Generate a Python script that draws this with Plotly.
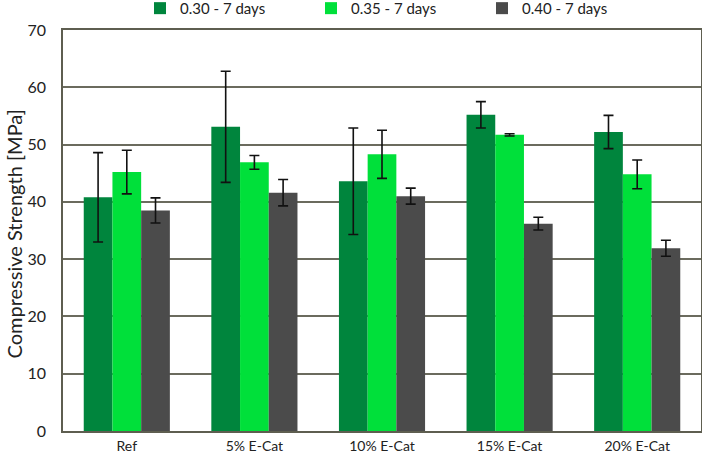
import plotly.graph_objects as go

categories = ["Ref", "5% E-Cat", "10% E-Cat", "15% E-Cat", "20% E-Cat"]
series_names = ["0.30 - 7 days", "0.35 - 7 days", "0.40 - 7 days"]
vals_030 = [40.8, 53.1, 43.6, 55.2, 52.2]
err_030 = [7.8, 9.7, 9.3, 2.3, 2.9]
vals_035 = [45.2, 46.9, 48.3, 51.7, 44.8]
err_035 = [3.8, 1.2, 4.2, 0.2, 2.5]
vals_040 = [38.5, 41.6, 41.0, 36.2, 31.9]
err_040 = [2.2, 2.3, 1.4, 1.1, 1.4]
y_ticks = [0, 10, 20, 30, 40, 50, 60, 70]
y_title = "Compressive Strength [MPa]"

colors = ["#00853D", "#00E03A", "#4B4B4B"]
font_family = "Lato, 'Open Sans', sans-serif"

fig = go.Figure()
for name, vals, errs, col in zip(series_names, [vals_030, vals_035, vals_040],
                                 [err_030, err_035, err_040], colors):
    fig.add_trace(go.Bar(
        x=categories, y=vals, name=name,
        marker=dict(color=col, line=dict(width=0)),
        error_y=dict(type="data", array=errs, visible=True,
                     color="#111111", thickness=1.6, width=5),
    ))

fig.add_annotation(text=y_title, textangle=-90, xref="paper", yref="paper",
                   x=0, y=0.5, xanchor="center", yanchor="middle", xshift=-50,
                   yshift=-4, showarrow=False, font=dict(size=20, color="#222222"))

fig.update_layout(
    width=702, height=456,
    margin=dict(l=63, r=1, t=30, b=25, autoexpand=False),
    paper_bgcolor="white", plot_bgcolor="white",
    barmode="group", bargap=0.325, bargroupgap=0,
    font=dict(family=font_family, size=15, color="#222222"),
    showlegend=True,
    legend=dict(orientation="h", xref="container", x=140 / 702, xanchor="left",
                yref="paper", y=1.095, yanchor="top",
                font=dict(size=15, color="#222222"), itemwidth=30,
                entrywidth=126, entrywidthmode="pixels", tracegroupgap=0,
                bgcolor="rgba(0,0,0,0)"),
    xaxis=dict(showline=True, linecolor="#5E5E50", linewidth=1.5, mirror=True,
               ticks="", tickfont=dict(size=14), showgrid=False, ticklabelstandoff=1),
    yaxis=dict(range=[0, 70], tickvals=y_ticks, showline=True, linecolor="#5E5E50",
               linewidth=1.5, mirror=True, showgrid=True, gridcolor="#6B6B5E",
               gridwidth=1.5, ticks="", tickfont=dict(size=16),
               zeroline=False, ticklabelstandoff=12),
)

fig.write_html("out.html")
